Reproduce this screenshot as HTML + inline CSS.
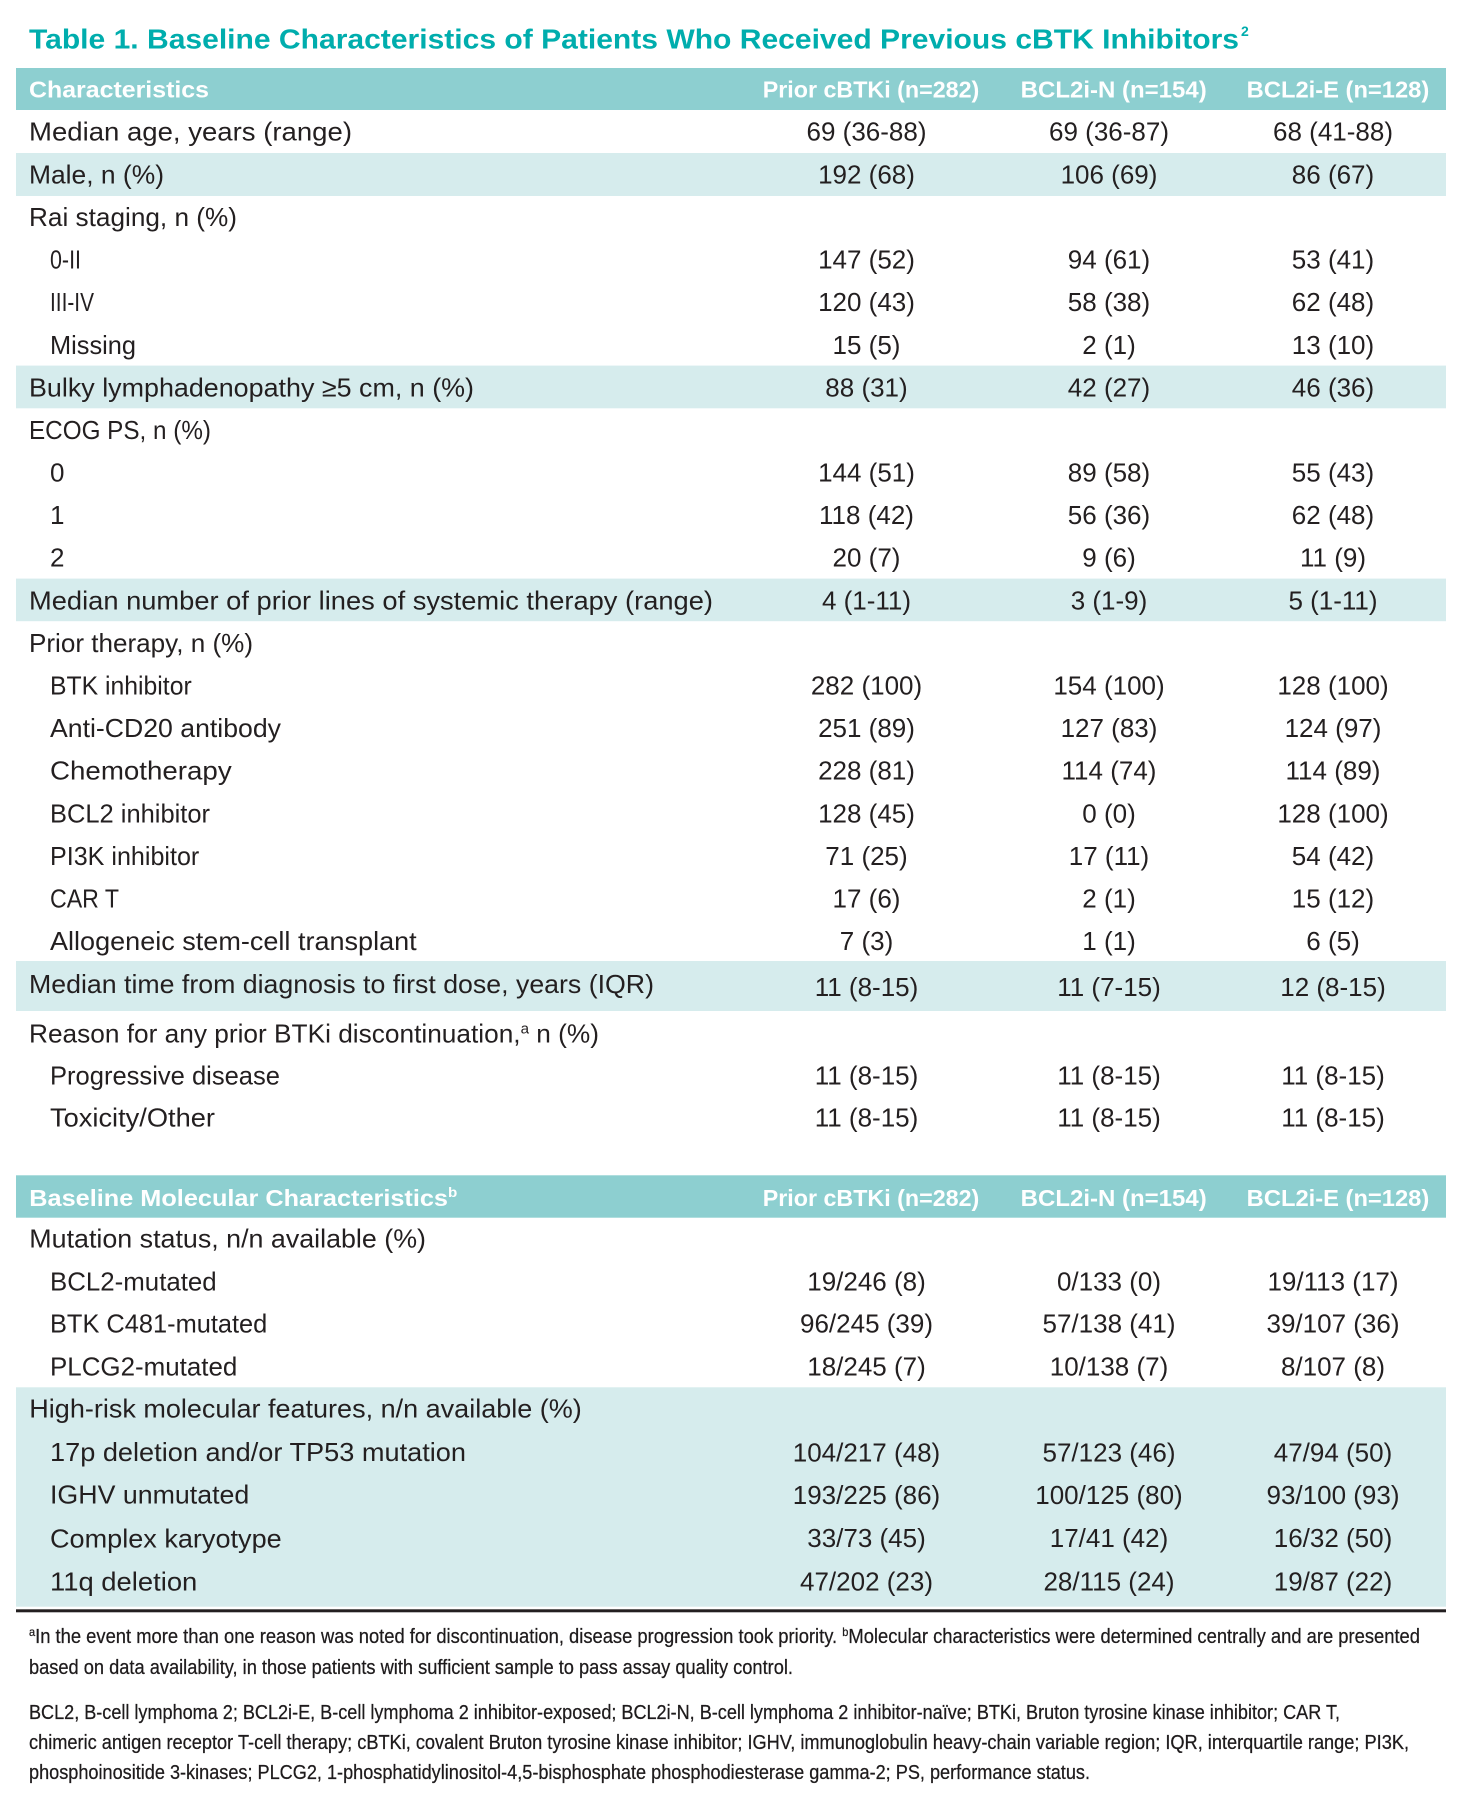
<!DOCTYPE html>
<html>
<head>
<meta charset="utf-8">
<style>
html,body{margin:0;padding:0;background:#fff;}
svg{display:block;}
</style>
</head>
<body>
<svg xmlns="http://www.w3.org/2000/svg" width="1470" height="1814" viewBox="0 0 1470 1814" font-family="'Liberation Sans', Arial, sans-serif">
<rect x="0" y="0" width="1470" height="1814" fill="#ffffff"/>

<!-- Title -->
<text x="29" y="48.3" font-size="28" font-weight="bold" fill="#00ADAD" textLength="1210" lengthAdjust="spacingAndGlyphs">Table 1. Baseline Characteristics of Patients Who Received Previous cBTK Inhibitors</text>
<text x="1241" y="36" font-size="14" font-weight="bold" fill="#00ADAD">2</text>

<!-- Header band 1 -->
<rect x="16" y="68" width="1430" height="42" fill="#8DCFD0"/>
<g font-size="23.3" font-weight="bold" fill="#ffffff">
<text x="29" y="97.5" textLength="180" lengthAdjust="spacingAndGlyphs">Characteristics</text>
<text x="762.7" y="97.5" textLength="216.6" lengthAdjust="spacingAndGlyphs">Prior cBTKi (n=282)</text>
<text x="1020.7" y="97.5" textLength="186" lengthAdjust="spacingAndGlyphs">BCL2i-N (n=154)</text>
<text x="1246.7" y="97.5" textLength="182.6" lengthAdjust="spacingAndGlyphs">BCL2i-E (n=128)</text>
</g>

<!-- Shaded rows -->
<g fill="#D6ECED">
<rect x="16" y="153" width="1430" height="43"/>
<rect x="16" y="365.6" width="1430" height="42.7"/>
<rect x="16" y="578.6" width="1430" height="42.6"/>
<rect x="16" y="961" width="1430" height="50"/>
<rect x="16" y="1387.3" width="1430" height="219.4"/>
</g>

<!-- Header band 2 -->
<rect x="16" y="1175.3" width="1430" height="42.4" fill="#8DCFD0"/>
<g font-size="23.3" font-weight="bold" fill="#ffffff">
<text x="29.3" y="1206" textLength="428" lengthAdjust="spacingAndGlyphs">Baseline Molecular Characteristics<tspan font-size="14" dy="-9">b</tspan></text>
<text x="762.7" y="1206" textLength="216.6" lengthAdjust="spacingAndGlyphs">Prior cBTKi (n=282)</text>
<text x="1020.7" y="1206" textLength="186" lengthAdjust="spacingAndGlyphs">BCL2i-N (n=154)</text>
<text x="1246.7" y="1206" textLength="182.6" lengthAdjust="spacingAndGlyphs">BCL2i-E (n=128)</text>
</g>

<!-- Row labels -->
<g font-size="26" fill="#231F20">
<text x="29" y="140.7" textLength="323" lengthAdjust="spacingAndGlyphs">Median age, years (range)</text>
<text x="29" y="183.3" textLength="135" lengthAdjust="spacingAndGlyphs">Male, n (%)</text>
<text x="29" y="226" textLength="208" lengthAdjust="spacingAndGlyphs">Rai staging, n (%)</text>
<text x="50" y="268.5" textLength="31" lengthAdjust="spacingAndGlyphs">0-II</text>
<text x="50" y="311" textLength="44" lengthAdjust="spacingAndGlyphs">III-IV</text>
<text x="50" y="353.8" textLength="86" lengthAdjust="spacingAndGlyphs">Missing</text>
<text x="29" y="396.3" textLength="445" lengthAdjust="spacingAndGlyphs">Bulky lymphadenopathy ≥5 cm, n (%)</text>
<text x="29" y="438.9" textLength="182" lengthAdjust="spacingAndGlyphs">ECOG PS, n (%)</text>
<text x="50" y="481.5">0</text>
<text x="50" y="524">1</text>
<text x="50" y="566.7">2</text>
<text x="29" y="609.3" textLength="684" lengthAdjust="spacingAndGlyphs">Median number of prior lines of systemic therapy (range)</text>
<text x="29" y="651.9" textLength="224" lengthAdjust="spacingAndGlyphs">Prior therapy, n (%)</text>
<text x="50" y="694.5" textLength="141.7" lengthAdjust="spacingAndGlyphs">BTK inhibitor</text>
<text x="50" y="737" textLength="231" lengthAdjust="spacingAndGlyphs">Anti-CD20 antibody</text>
<text x="50" y="779.7" textLength="181.7" lengthAdjust="spacingAndGlyphs">Chemotherapy</text>
<text x="50" y="822.3" textLength="160" lengthAdjust="spacingAndGlyphs">BCL2 inhibitor</text>
<text x="50" y="864.9" textLength="149.3" lengthAdjust="spacingAndGlyphs">PI3K inhibitor</text>
<text x="50" y="907.5" textLength="69" lengthAdjust="spacingAndGlyphs">CAR T</text>
<text x="50" y="950" textLength="366.7" lengthAdjust="spacingAndGlyphs">Allogeneic stem-cell transplant</text>
<text x="29" y="993" textLength="625" lengthAdjust="spacingAndGlyphs">Median time from diagnosis to first dose, years (IQR)</text>
<text x="29" y="1042.5" textLength="570" lengthAdjust="spacingAndGlyphs">Reason for any prior BTKi discontinuation,<tspan font-size="15" dy="-9">a</tspan><tspan dy="9"> n (%)</tspan></text>
<text x="50" y="1084.5" textLength="230" lengthAdjust="spacingAndGlyphs">Progressive disease</text>
<text x="50" y="1126.5" textLength="165" lengthAdjust="spacingAndGlyphs">Toxicity/Other</text>

<text x="29.3" y="1247.7" textLength="396.7" lengthAdjust="spacingAndGlyphs">Mutation status, n/n available (%)</text>
<text x="50" y="1290.7" textLength="166.7" lengthAdjust="spacingAndGlyphs">BCL2-mutated</text>
<text x="50" y="1332.7" textLength="217.3" lengthAdjust="spacingAndGlyphs">BTK C481-mutated</text>
<text x="50" y="1375.7" textLength="187.3" lengthAdjust="spacingAndGlyphs">PLCG2-mutated</text>
<text x="29.3" y="1417.3" textLength="552.5" lengthAdjust="spacingAndGlyphs">High-risk molecular features, n/n available (%)</text>
<text x="50" y="1461" textLength="416" lengthAdjust="spacingAndGlyphs">17p deletion and/or TP53 mutation</text>
<text x="50" y="1503.5" textLength="199.3" lengthAdjust="spacingAndGlyphs">IGHV unmutated</text>
<text x="50" y="1547.3" textLength="231.7" lengthAdjust="spacingAndGlyphs">Complex karyotype</text>
<text x="50" y="1590.5" textLength="147.3" lengthAdjust="spacingAndGlyphs">11q deletion</text>
</g>

<!-- Data values -->
<g font-size="26" fill="#231F20" text-anchor="middle">
<text x="866.5" y="140.7">69 (36-88)</text><text x="1109" y="140.7">69 (36-87)</text><text x="1333" y="140.7">68 (41-88)</text>
<text x="866.5" y="183.3">192 (68)</text><text x="1109" y="183.3">106 (69)</text><text x="1333" y="183.3">86 (67)</text>
<text x="866.5" y="268.5">147 (52)</text><text x="1109" y="268.5">94 (61)</text><text x="1333" y="268.5">53 (41)</text>
<text x="866.5" y="311">120 (43)</text><text x="1109" y="311">58 (38)</text><text x="1333" y="311">62 (48)</text>
<text x="866.5" y="353.8">15 (5)</text><text x="1109" y="353.8">2 (1)</text><text x="1333" y="353.8">13 (10)</text>
<text x="866.5" y="396.3">88 (31)</text><text x="1109" y="396.3">42 (27)</text><text x="1333" y="396.3">46 (36)</text>
<text x="866.5" y="481.5">144 (51)</text><text x="1109" y="481.5">89 (58)</text><text x="1333" y="481.5">55 (43)</text>
<text x="866.5" y="524">118 (42)</text><text x="1109" y="524">56 (36)</text><text x="1333" y="524">62 (48)</text>
<text x="866.5" y="566.7">20 (7)</text><text x="1109" y="566.7">9 (6)</text><text x="1333" y="566.7">11 (9)</text>
<text x="866.5" y="609.3">4 (1-11)</text><text x="1109" y="609.3">3 (1-9)</text><text x="1333" y="609.3">5 (1-11)</text>
<text x="866.5" y="694.5">282 (100)</text><text x="1109" y="694.5">154 (100)</text><text x="1333" y="694.5">128 (100)</text>
<text x="866.5" y="737">251 (89)</text><text x="1109" y="737">127 (83)</text><text x="1333" y="737">124 (97)</text>
<text x="866.5" y="779.7">228 (81)</text><text x="1109" y="779.7">114 (74)</text><text x="1333" y="779.7">114 (89)</text>
<text x="866.5" y="822.3">128 (45)</text><text x="1109" y="822.3">0 (0)</text><text x="1333" y="822.3">128 (100)</text>
<text x="866.5" y="864.9">71 (25)</text><text x="1109" y="864.9">17 (11)</text><text x="1333" y="864.9">54 (42)</text>
<text x="866.5" y="907.5">17 (6)</text><text x="1109" y="907.5">2 (1)</text><text x="1333" y="907.5">15 (12)</text>
<text x="866.5" y="950">7 (3)</text><text x="1109" y="950">1 (1)</text><text x="1333" y="950">6 (5)</text>
<text x="866.5" y="996">11 (8-15)</text><text x="1109" y="996">11 (7-15)</text><text x="1333" y="996">12 (8-15)</text>
<text x="866.5" y="1084.5">11 (8-15)</text><text x="1109" y="1084.5">11 (8-15)</text><text x="1333" y="1084.5">11 (8-15)</text>
<text x="866.5" y="1126.5">11 (8-15)</text><text x="1109" y="1126.5">11 (8-15)</text><text x="1333" y="1126.5">11 (8-15)</text>

<text x="866.5" y="1290.7">19/246 (8)</text><text x="1109" y="1290.7">0/133 (0)</text><text x="1333" y="1290.7">19/113 (17)</text>
<text x="866.5" y="1332.7">96/245 (39)</text><text x="1109" y="1332.7">57/138 (41)</text><text x="1333" y="1332.7">39/107 (36)</text>
<text x="866.5" y="1375.7">18/245 (7)</text><text x="1109" y="1375.7">10/138 (7)</text><text x="1333" y="1375.7">8/107 (8)</text>
<text x="866.5" y="1461.5">104/217 (48)</text><text x="1109" y="1461.5">57/123 (46)</text><text x="1333" y="1461.5">47/94 (50)</text>
<text x="866.5" y="1504">193/225 (86)</text><text x="1109" y="1504">100/125 (80)</text><text x="1333" y="1504">93/100 (93)</text>
<text x="866.5" y="1547">33/73 (45)</text><text x="1109" y="1547">17/41 (42)</text><text x="1333" y="1547">16/32 (50)</text>
<text x="866.5" y="1590.3">47/202 (23)</text><text x="1109" y="1590.3">28/115 (24)</text><text x="1333" y="1590.3">19/87 (22)</text>
</g>

<!-- Bottom rule -->
<rect x="16" y="1609.3" width="1430" height="3" fill="#231F20"/>

<!-- Footnotes -->
<g font-size="20" fill="#1e1b1c" stroke="#1e1b1c" stroke-width="0.25">
<text x="29" y="1643" textLength="1391" lengthAdjust="spacingAndGlyphs"><tspan font-size="12" dy="-7">a</tspan><tspan dy="7">In the event more than one reason was noted for discontinuation, disease progression took priority. </tspan><tspan font-size="12" dy="-7">b</tspan><tspan dy="7">Molecular characteristics were determined centrally and are presented</tspan></text>
<text x="29" y="1674" textLength="764" lengthAdjust="spacingAndGlyphs">based on data availability, in those patients with sufficient sample to pass assay quality control.</text>
<text x="29" y="1719" textLength="1311" lengthAdjust="spacingAndGlyphs">BCL2, B-cell lymphoma 2; BCL2i-E, B-cell lymphoma 2 inhibitor-exposed; BCL2i-N, B-cell lymphoma 2 inhibitor-naïve; BTKi, Bruton tyrosine kinase inhibitor; CAR T,</text>
<text x="29" y="1749" textLength="1380" lengthAdjust="spacingAndGlyphs">chimeric antigen receptor T-cell therapy; cBTKi, covalent Bruton tyrosine kinase inhibitor; IGHV, immunoglobulin heavy-chain variable region; IQR, interquartile range; PI3K,</text>
<text x="29" y="1779" textLength="1061" lengthAdjust="spacingAndGlyphs">phosphoinositide 3-kinases; PLCG2, 1-phosphatidylinositol-4,5-bisphosphate phosphodiesterase gamma-2; PS, performance status.</text>
</g>
</svg>
</body>
</html>
